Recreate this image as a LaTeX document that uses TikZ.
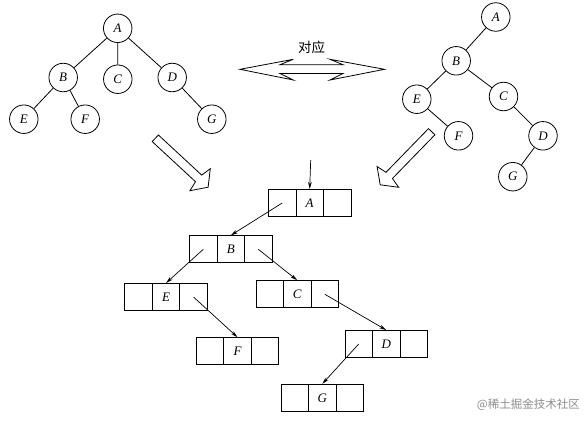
\documentclass[tikz,border=0pt]{standalone}
\usepackage{fontspec}
\setmainfont{Liberation Serif}
\newfontfamily\cjk{Noto Sans CJK SC}
\usetikzlibrary{arrows.meta}
\tikzset{
  tnode/.style={draw,circle,line width=0.8pt,minimum size=28.5pt,inner sep=0pt,font=\fontsize{13}{13}\selectfont\itshape},
  tline/.style={line width=0.8pt},
  cell/.style={draw,line width=0.9pt,minimum width=27.5pt,minimum height=27pt,inner sep=0pt,font=\fontsize{13}{13}\selectfont\itshape},
  link/.style={line width=0.7pt,-{Stealth[length=7pt,width=3.6pt,inset=2pt]}},
  bigarrow/.style={line width=0.8pt,line join=miter},
  wm/.style={text=black!45,font=\cjk\fontsize{11.5}{11.5}\selectfont,inner sep=0pt}
}
\begin{document}
\begin{tikzpicture}[x=1pt,y=-1pt]
\useasboundingbox (0,0) rectangle (585,421);
% left tree
\node[tnode] (LA) at (117.7,28.3) {A};
\node[tnode] (LB) at (63.2,77.5) {B};
\node[tnode] (LC) at (117.8,79.2) {C};
\node[tnode] (LD) at (172.2,77.5) {D};
\node[tnode] (LE) at (23.8,119.2) {E};
\node[tnode] (LF) at (85.2,119.2) {F};
\node[tnode] (LG) at (211.8,119.2) {G};
\draw[tline] (LA) -- (LB);
\draw[tline] (LA) -- (LC);
\draw[tline] (LA) -- (LD);
\draw[tline] (LB) -- (LE);
\draw[tline] (LB) -- (LF);
\draw[tline] (LD) -- (LG);
% right tree
\node[tnode] (RA) at (495.8,17) {A};
\node[tnode] (RB) at (456.2,60.8) {B};
\node[tnode] (RE) at (416.8,99.2) {E};
\node[tnode] (RC) at (503.5,96.5) {C};
\node[tnode] (RF) at (458.5,135.8) {F};
\node[tnode] (RD) at (543,135.8) {D};
\node[tnode] (RG) at (512.8,176.7) {G};
\draw[tline] (RA) -- (RB);
\draw[tline] (RB) -- (RE);
\draw[tline] (RB) -- (RC);
\draw[tline] (RE) -- (RF);
\draw[tline] (RC) -- (RD);
\draw[tline] (RD) -- (RG);
% double arrow
\node[font=\cjk\fontsize{13.5}{13.5}\selectfont,inner sep=0pt] (lbl) at (311.5,47.5) {对应};
\draw[bigarrow] (240,69.3) -- (293.3,59.3) -- (280,64.7) -- (343,64.7) -- (330,59.3) -- (384.5,69.3)
  -- (330,80) -- (343,73.5) -- (280,73.5) -- (293.3,80) -- cycle;
% hollow arrows
\draw[bigarrow] (158.4,135.0) -- (201.7,175.1) -- (210.3,168.7) -- (208.1,187.2) -- (189.9,190.7) -- (195.5,181.7) -- (152.2,141.6) -- cycle;
\draw[bigarrow] (434.9,134.8) -- (392.4,178.5) -- (398.7,187.3) -- (380.2,184.8) -- (377.1,166.5) -- (386.0,172.3) -- (428.5,128.6) -- cycle;
% records
\foreach \n/\t/\x/\y in {A/A/309.7/203, B/B/230.8/249.3, E/E/166/297, C/C/297.2/294.2, F/F/237.5/351.2, D/D/386.2/344, G/G/322.3/397.8}{
  \node[cell] (b\n) at (\x,\y) {\t};
  \node[cell] (b\n l) at (\x-27.5,\y) {};
  \node[cell] (b\n r) at (\x+27.5,\y) {};
}
\coordinate (root) at (310.7,160);
\draw[link] (root) -- (bA.north);
\draw[link] (bAl.center) -- (bB.north);
\draw[link] (bBl.center) -- (bE.north);
\draw[link] (bBr.center) -- (bC.north);
\draw[link] (bEr.center) -- (bF.north);
\draw[link] (bCr.center) -- (bD.north);
\draw[link] (bDl.center) -- (bG.north);
% watermark
\node[wm,anchor=east] (wmk) at (580,405) {@稀土掘金技术社区};
\end{tikzpicture}
\end{document}
